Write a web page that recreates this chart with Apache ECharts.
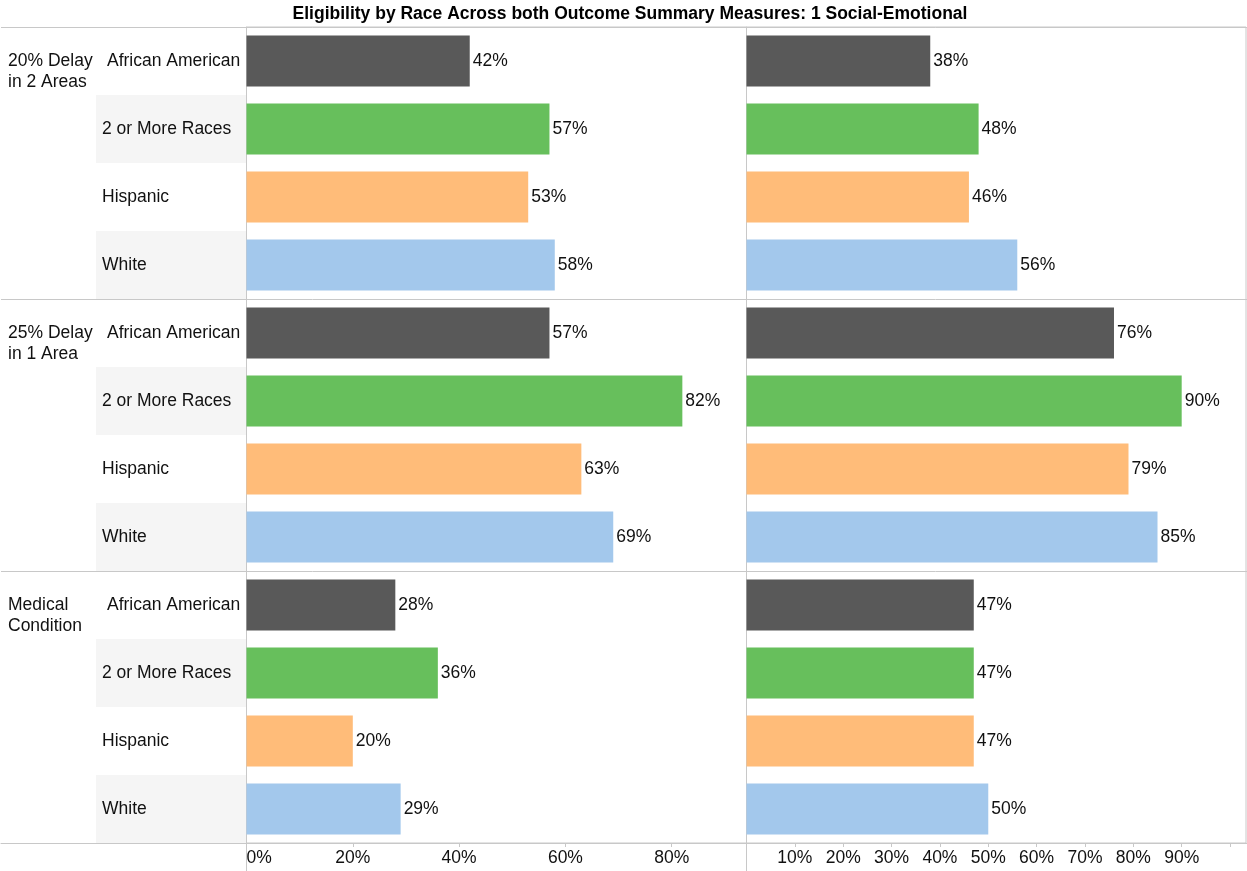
<!DOCTYPE html>
<html>
<head>
<meta charset="utf-8">
<script src="https://cdn.jsdelivr.net/npm/echarts@6/dist/echarts.min.js"></script>
<style>
html,body{margin:0;padding:0;background:#fff;}
#chart{width:1247px;height:871px;}
</style>
</head>
<body>
<div id="chart"></div>
<script>
// ---- data ----
const titleText = 'Eligibility by Race Across both Outcome Summary Measures: 1 Social-Emotional';
const races = ['African American', '2 or More Races', 'Hispanic', 'White'];
const groups = ['20% Delay\nin 2 Areas', '25% Delay\nin 1 Area', 'Medical\nCondition'];
const leftDelay2 = [42, 57, 53, 58];
const leftDelay1 = [57, 82, 63, 69];
const leftMedical = [28, 36, 20, 29];
const rightDelay2 = [38, 48, 46, 56];
const rightDelay1 = [76, 90, 79, 85];
const rightMedical = [47, 47, 47, 50];
const leftTicks = [0, 20, 40, 60, 80];
const rightTicks = [10, 20, 30, 40, 50, 60, 70, 80, 90];
const raceColors = ['#595959', '#67BF5C', '#FFBC79', '#A3C8EC'];

// ---- build ----
const leftValues = [].concat(leftDelay2, leftDelay1, leftMedical);
const rightValues = [].concat(rightDelay2, rightDelay1, rightMedical);
const rowIds = leftValues.map((_, i) => String(i));
const raceOf = i => races[i % races.length];

const FONT = 'Liberation Sans, Arial, sans-serif';
const FS = 17.5;
const LINE = '#c8c8c8';
const TXT = '#111';

const TOP = 27, H = 816;

function barSeries(values, xi, yi) {
  return {
    type: 'bar',
    xAxisIndex: xi, yAxisIndex: yi,
    barWidth: 51,
    data: values.map((v, i) => ({ value: v, itemStyle: { color: raceColors[i % 4] } })),
    label: {
      show: true, position: 'right', distance: 3,
      formatter: p => p.value + '%',
      fontFamily: FONT, fontSize: FS, color: TXT
    },
    silent: true,
    animation: false
  };
}

const option = {
  animation: false,
  backgroundColor: '#fff',
  title: {
    text: titleText,
    left: 625, top: 0, textAlign: 'center',
    textStyle: { fontFamily: FONT, fontWeight: 'bold', fontSize: 17.5, color: '#000' }
  },
  grid: [
    { left: 1, right: 0, top: TOP, height: H },                          // 0 background separators
    { left: 96, width: 150, top: TOP, height: H },                        // 1 race label column
    { left: 246.5, width: 500, top: TOP, height: H, show: true, borderColor: LINE, borderWidth: 1 }, // 2
    { left: 746.5, width: 499.5, top: TOP, height: H, show: true, borderColor: LINE, borderWidth: 1 }, // 3
    { left: 0, width: 96, top: TOP, height: H }                           // 4 group label column
  ],
  xAxis: [
    { gridIndex: 0, type: 'value', min: 0, max: 1, axisLine: { show: true, lineStyle: { color: LINE } },
      axisTick: { show: false }, axisLabel: { show: false }, splitLine: { show: false } },
    { gridIndex: 1, type: 'value', show: false },
    { gridIndex: 2, type: 'value', min: 0, max: 94.07, interval: 20,
      axisLine: { show: true, lineStyle: { color: LINE } },
      axisTick: { show: true, length: 4, lineStyle: { color: LINE } },
      splitLine: { show: false },
      axisLabel: {
        margin: 6, fontFamily: FONT, fontSize: FS, color: TXT,
        showMaxLabel: false, alignMinLabel: 'left',
        formatter: v => (leftTicks.indexOf(v) >= 0 ? v + '%' : '')
      } },
    { gridIndex: 3, type: 'value', min: 0, max: 103.3, interval: 10,
      axisLine: { show: true, lineStyle: { color: LINE } },
      axisTick: { show: true, length: 4, lineStyle: { color: LINE } },
      splitLine: { show: false },
      axisLabel: {
        margin: 6, fontFamily: FONT, fontSize: FS, color: TXT,
        showMinLabel: false, showMaxLabel: false,
        formatter: v => (rightTicks.indexOf(v) >= 0 ? v + '%' : '')
      } },
    { gridIndex: 4, type: 'value', show: false },
    // panel edge lines continuing below the axis
    { gridIndex: 2, type: 'category', data: [''], boundaryGap: true, position: 'bottom',
      axisLine: { show: false }, axisLabel: { show: false },
      axisTick: { show: true, length: 30, lineStyle: { color: LINE } } }
  ],
  yAxis: [
    { gridIndex: 0, type: 'category', data: rowIds, inverse: true,
      axisLine: { show: false }, axisTick: { show: false }, axisLabel: { show: false },
      splitLine: { show: true, interval: (i) => i % 4 === 0, lineStyle: { color: LINE } } },
    { gridIndex: 1, type: 'category', data: rowIds, inverse: true,
      axisLine: { show: false }, axisTick: { show: false },
      splitArea: { show: true, areaStyle: { color: ['rgba(255,255,255,0)', '#f5f5f5'] } },
      axisLabel: { inside: true, margin: 6, align: 'left', interval: 0,
        fontFamily: FONT, fontSize: FS, color: TXT,
        formatter: (v, i) => (i % 4 === 0 ? '{s|' + raceOf(i) + '}' : raceOf(i)),
        rich: { s: { fontFamily: FONT, fontSize: FS, color: TXT, padding: [0, 0, 0, 5] } } } },
    { gridIndex: 2, type: 'category', data: rowIds, inverse: true,
      axisLine: { show: true, lineStyle: { color: LINE } }, axisTick: { show: false }, axisLabel: { show: false } },
    { gridIndex: 3, type: 'category', data: rowIds, inverse: true,
      axisLine: { show: true, lineStyle: { color: LINE } }, axisTick: { show: false }, axisLabel: { show: false } },
    { gridIndex: 4, type: 'category', data: rowIds, inverse: true,
      axisLine: { show: false }, axisTick: { show: false },
      axisLabel: { inside: true, margin: 8, align: 'left', interval: 0, lineHeight: 21,
        fontFamily: FONT, fontSize: FS, color: TXT,
        formatter: (v, i) => (i % 4 === 0 ? '\n' + groups[i / 4] : '') } }
  ],
  series: [
    barSeries(leftValues, 2, 2),
    barSeries(rightValues, 3, 3)
  ]
};

const chart = echarts.init(document.getElementById('chart'), null, { renderer: 'canvas' });
chart.setOption(option);
</script>
</body>
</html>
